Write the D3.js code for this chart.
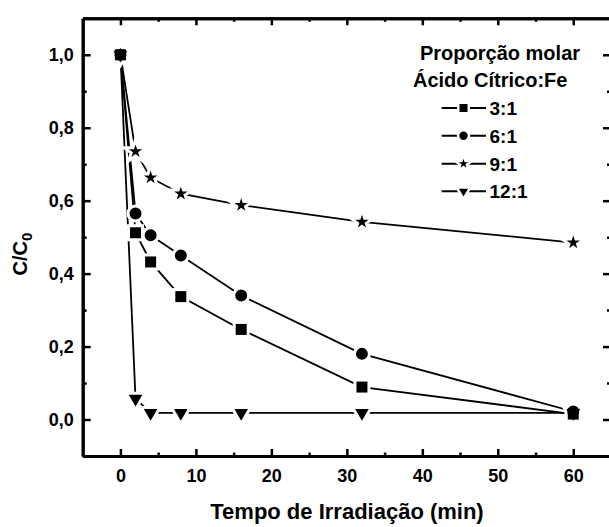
<!DOCTYPE html>
<html>
<head>
<meta charset="utf-8">
<script src="https://cdn.jsdelivr.net/npm/d3@7"></script>
<style>
  body { margin: 0; background: #fff; }
  text { font-family: "Liberation Sans", Arial, sans-serif; font-weight: bold; fill: #000; }
</style>
</head>
<body>
<div id="my_dataviz"></div>
<script>
// data
const times = [0, 2, 4, 8, 16, 32, 60];
const r3  = [1.0, 0.512, 0.432, 0.337, 0.247, 0.089, 0.015];
const r6  = [1.0, 0.565, 0.505, 0.450, 0.340, 0.180, 0.022];
const r9  = [1.0, 0.735, 0.663, 0.619, 0.588, 0.542, 0.485];
const r12 = [1.0, 0.057, 0.018, 0.018, 0.018, 0.018, 0.018];
const seriesNames = ["3:1", "6:1", "9:1", "12:1"];
const xTicks = [0, 10, 20, 30, 40, 50, 60];
const xMinor = [5, 15, 25, 35, 45, 55];
const yTicks = [0, 0.2, 0.4, 0.6, 0.8, 1.0];
const yMinor = [-0.1, 0.1, 0.3, 0.5, 0.7, 0.9];

// set the dimensions and margins of the graph
const margin = {top: 18.3, right: -2, bottom: 71, left: 82.7},
    width = 609 - margin.left - margin.right,
    height = 527 - margin.top - margin.bottom;

const svg = d3.select("#my_dataviz")
  .append("svg")
    .attr("width", 609)
    .attr("height", 527)
  .append("g")
    .attr("transform", `translate(${margin.left}, ${margin.top})`);

const x = d3.scaleLinear().domain([-5, 65]).range([0, width]);
const y = d3.scaleLinear().domain([-0.1, 1.1]).range([height, 0]);

const comma = d => d3.format(".1f")(d).replace(".", ",");

function styleAxis(g, w) {
  g.select(".domain").attr("stroke-width", 3);
  g.selectAll(".tick line").attr("stroke-width", w);
  g.selectAll("text").style("font-size", "18px").attr("font-family", null);
}

// bottom axis with labels
svg.append("g")
  .attr("transform", `translate(0, ${height})`)
  .call(d3.axisBottom(x).tickValues(xTicks).tickSizeInner(-7).tickSizeOuter(0).tickPadding(13))
  .call(g => styleAxis(g, 2.5));
svg.append("g")
  .attr("transform", `translate(0, ${height})`)
  .call(d3.axisBottom(x).tickValues(xMinor).tickSizeInner(-3.5).tickSizeOuter(0).tickFormat(""))
  .call(g => styleAxis(g, 2.5));
// top axis
svg.append("g")
  .call(d3.axisTop(x).tickValues(xTicks).tickSizeInner(-7).tickSizeOuter(0).tickFormat(""))
  .call(g => styleAxis(g, 2.5));
svg.append("g")
  .call(d3.axisTop(x).tickValues(xMinor).tickSizeInner(-3.5).tickSizeOuter(0).tickFormat(""))
  .call(g => styleAxis(g, 2.5));
// left axis
svg.append("g")
  .call(d3.axisLeft(y).tickValues(yTicks).tickSizeInner(-8).tickSizeOuter(0).tickPadding(9).tickFormat(comma))
  .call(g => styleAxis(g, 2.5));
svg.append("g")
  .call(d3.axisLeft(y).tickValues(yMinor).tickSizeInner(-4).tickSizeOuter(0).tickFormat(""))
  .call(g => styleAxis(g, 2.5));
// right axis
svg.append("g")
  .attr("transform", `translate(${width}, 0)`)
  .call(d3.axisRight(y).tickValues(yTicks).tickSizeInner(-8).tickSizeOuter(0).tickFormat(""))
  .call(g => styleAxis(g, 2.5));
svg.append("g")
  .attr("transform", `translate(${width}, 0)`)
  .call(d3.axisRight(y).tickValues(yMinor).tickSizeInner(-4).tickSizeOuter(0).tickFormat(""))
  .call(g => styleAxis(g, 2.5));

// axis titles
svg.append("text")
  .attr("text-anchor", "middle")
  .attr("x", 347 - margin.left)
  .attr("y", 519 - margin.top)
  .style("font-size", "22px")
  .text("Tempo de Irradiação (min)");

const yt = svg.append("text")
  .attr("text-anchor", "middle")
  .attr("transform", `translate(${27 - margin.left}, ${254 - margin.top}) rotate(-90)`)
  .style("font-size", "20px");
yt.append("tspan").text("C/C");
yt.append("tspan").attr("dy", 5).style("font-size", "15px").text("0");

// series
const symbols = [
  {type: d3.symbolSquare, size: 121, rot: 0, lsize: 64},
  {type: d3.symbolCircle, size: 113, rot: 0, lsize: 55},
  {type: d3.symbolStar, size: 55, rot: 0, lsize: 28},
  {type: d3.symbolTriangle, size: 80, rot: 180, lsize: 36}
];
const series = [r3, r6, r9, r12].map((vals, i) => ({
  name: seriesNames[i],
  sym: symbols[i],
  points: times.map((t, j) => ({t: t, v: vals[j]}))
}));

const line = d3.line().x(d => x(d.t)).y(d => y(d.v));

svg.selectAll(".series-line")
  .data(series)
  .join("path")
    .attr("class", "series-line")
    .attr("d", d => line(d.points))
    .attr("fill", "none")
    .attr("stroke", "#000")
    .attr("stroke-width", 1.8);

// white halo under markers so lines stop short of them
const allPts = series.flatMap(s => s.points.map(p => ({...p, sym: s.sym})));
svg.selectAll(".halo")
  .data(allPts)
  .join("path")
    .attr("class", "halo")
    .attr("transform", d => `translate(${x(d.t)}, ${y(d.v)}) rotate(${d.sym.rot})`)
    .attr("d", d => d3.symbol().type(d.sym.type).size(d.sym.size)())
    .attr("fill", "#fff")
    .attr("stroke", "#fff")
    .attr("stroke-width", 6);
svg.selectAll(".marker")
  .data(allPts)
  .join("path")
    .attr("class", "marker")
    .attr("transform", d => `translate(${x(d.t)}, ${y(d.v)}) rotate(${d.sym.rot})`)
    .attr("d", d => d3.symbol().type(d.sym.type).size(d.sym.size)())
    .attr("fill", "#000");

// legend
const legend = svg.append("g").attr("transform", `translate(${-margin.left}, ${-margin.top})`);
legend.append("text").attr("x", 420).attr("y", 60).style("font-size", "20px").text("Proporção molar");
legend.append("text").attr("x", 413).attr("y", 87.3).style("font-size", "20px").text("Ácido Cítrico:Fe");

const entryY = [108, 135.7, 163.7, 191.3];
series.forEach((s, i) => {
  const yy = entryY[i];
  legend.append("line")
    .attr("x1", 441.7).attr("x2", 486).attr("y1", yy).attr("y2", yy)
    .attr("stroke", "#000").attr("stroke-width", 2);
  legend.append("path")
    .attr("transform", `translate(463.5, ${yy}) rotate(${s.sym.rot})`)
    .attr("d", d3.symbol().type(s.sym.type).size(s.sym.lsize)())
    .attr("fill", "#000")
    .attr("stroke", "#fff")
    .attr("stroke-width", 5)
    .attr("paint-order", "stroke");
  legend.append("text")
    .attr("x", 489.5)
    .attr("y", yy + 7)
    .style("font-size", "19px")
    .text(s.name);
});
</script>
</body>
</html>
